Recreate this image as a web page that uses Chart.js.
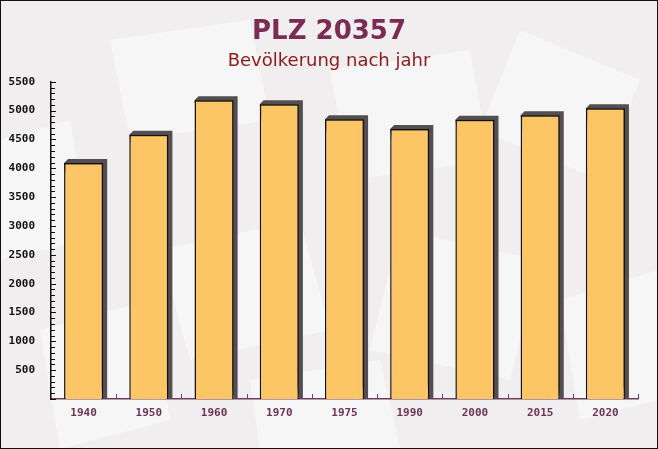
<!DOCTYPE html>
<html>
<head>
<meta charset="utf-8">
<script src="https://cdn.jsdelivr.net/npm/chart.js@4"></script>
<style>
html,body{margin:0;padding:0;background:#f2eff0;}
#wrap{width:658px;height:449px;position:relative;}
canvas{display:block;}
</style>
</head>
<body>
<div id="wrap"><canvas id="c" width="658" height="449"></canvas></div>
<script>
const categories = ["1940","1950","1960","1970","1975","1990","2000","2015","2020"];
const population = [4090, 4580, 5180, 5110, 4850, 4680, 4840, 4920, 5040];
const yTickLabels = ["500","1000","1500","2000","2500","3000","3500","4000","4500","5000","5500"];

const bgPlugin = {
  id: 'bg',
  beforeDraw(chart) {
    const ctx = chart.ctx, w = chart.width, h = chart.height;
    ctx.save();
    ctx.fillStyle = '#f1eeef';
    ctx.fillRect(0, 0, w, h);
    ctx.fillStyle = 'rgba(255,255,255,0.45)';
    const shapes = [
      [[110,40],[250,20],[270,120],[130,140]],
      [[330,70],[470,50],[490,160],[350,180]],
      [[520,30],[640,80],[600,180],[480,130]],
      [[0,140],[70,120],[90,240],[0,260]],
      [[160,250],[300,220],[330,330],[190,360]],
      [[400,230],[540,260],[510,380],[370,350]],
      [[560,300],[658,270],[658,400],[580,420]],
      [[40,330],[150,300],[170,420],[60,449]],
      [[250,380],[380,360],[400,449],[260,449]]
    ];
    shapes.forEach(s => {
      ctx.beginPath();
      ctx.moveTo(s[0][0], s[0][1]);
      for (let i = 1; i < s.length; i++) ctx.lineTo(s[i][0], s[i][1]);
      ctx.closePath();
      ctx.fill();
    });
    ctx.restore();
  },
  afterDraw(chart) {
    const ctx = chart.ctx;
    ctx.save();
    ctx.strokeStyle = '#111';
    ctx.lineWidth = 1;
    ctx.strokeRect(0.5, 0.5, chart.width - 1, chart.height - 1);
    ctx.restore();
  }
};

const shadowPlugin = {
  id: 'barShadow',
  beforeDatasetsDraw(chart) {
    const ctx = chart.ctx;
    const meta = chart.getDatasetMeta(0);
    const d = 4;
    ctx.save();
    ctx.fillStyle = '#534e4f';
    meta.data.forEach(bar => {
      const left = bar.x - bar.width / 2, right = bar.x + bar.width / 2;
      const top = bar.y, base = bar.base;
      ctx.beginPath();
      ctx.moveTo(left, top);
      ctx.lineTo(left + d, top - d);
      ctx.lineTo(right + d, top - d);
      ctx.lineTo(right + d, base - 1);
      ctx.lineTo(right, base);
      ctx.closePath();
      ctx.fill();
    });
    ctx.restore();
  }
};

const tickPlugin = {
  id: 'innerTicks',
  afterDatasetsDraw(chart) {
    const ctx = chart.ctx;
    const y = chart.scales.y, x = chart.scales.x;
    const area = chart.chartArea;
    ctx.save();
    ctx.lineWidth = 1;
    ctx.strokeStyle = '#111';
    y.ticks.forEach(t => {
      const py = Math.round(y.getPixelForValue(t.value)) + 0.5;
      const len = (t.value % 500 === 0) ? 5 : 4;
      ctx.beginPath();
      ctx.moveTo(area.left, py);
      ctx.lineTo(area.left + len, py);
      ctx.stroke();
    });
    ctx.strokeStyle = '#6e3a5e';
    for (let i = 1; i <= categories.length; i++) {
      let xx;
      if (i < categories.length) {
        xx = (x.getPixelForValue(i - 1) + x.getPixelForValue(i)) / 2;
      } else {
        xx = area.right;
      }
      xx = Math.round(xx) + 0.5;
      ctx.beginPath();
      ctx.moveTo(xx, area.bottom);
      ctx.lineTo(xx, area.bottom - 5);
      ctx.stroke();
    }
    ctx.restore();
  }
};

new Chart(document.getElementById('c'), {
  type: 'bar',
  data: {
    labels: categories,
    datasets: [{
      data: population,
      backgroundColor: '#fcc565',
      borderColor: '#141010',
      borderWidth: 1.5,
      borderSkipped: 'bottom',
      categoryPercentage: 0.6,
      barPercentage: 1.0
    }]
  },
  options: {
    responsive: false,
    animation: false,
    layout: { padding: { left: 0, right: 0, top: 0, bottom: 0 } },
    plugins: {
      legend: { display: false },
      tooltip: { enabled: false },
      title: {
        display: true,
        text: 'PLZ 20357',
        color: '#7b2c54',
        font: { family: 'DejaVu Sans', size: 26, weight: 'bold' },
        padding: { top: 17, bottom: 2 }
      },
      subtitle: {
        display: true,
        text: 'Bevölkerung nach jahr',
        color: '#8b1a1a',
        font: { family: 'DejaVu Sans', size: 18, weight: 'normal' },
        padding: { top: 0, bottom: 10 }
      }
    },
    scales: {
      x: {
        grid: { display: false },
        border: { display: true, color: '#6e3a5e', width: 1.5 },
        ticks: {
          color: '#6b3358',
          font: { family: 'DejaVu Sans Mono', size: 11, weight: 'bold' },
          padding: 0,
          maxRotation: 0
        },
        afterFit(s) { s.height = 50; }
      },
      y: {
        min: 0,
        max: 5500,
        grid: { display: false },
        border: { display: true, color: '#111', width: 1.5 },
        ticks: {
          stepSize: 100,
          autoSkip: false,
          color: '#111',
          font: { family: 'DejaVu Sans Mono', size: 11, weight: 'bold' },
          padding: 8,
          callback(v) {
            const s = String(v);
            return yTickLabels.includes(s) ? s : '';
          }
        },
        afterFit(s) { s.width = 51; }
      },
      yRight: {
        position: 'right',
        display: true,
        min: 0,
        max: 5500,
        grid: { display: false },
        border: { display: false },
        ticks: { display: false },
        afterFit(s) { s.width = 20; }
      }
    }
  },
  plugins: [bgPlugin, shadowPlugin, tickPlugin]
});
</script>
</body>
</html>
